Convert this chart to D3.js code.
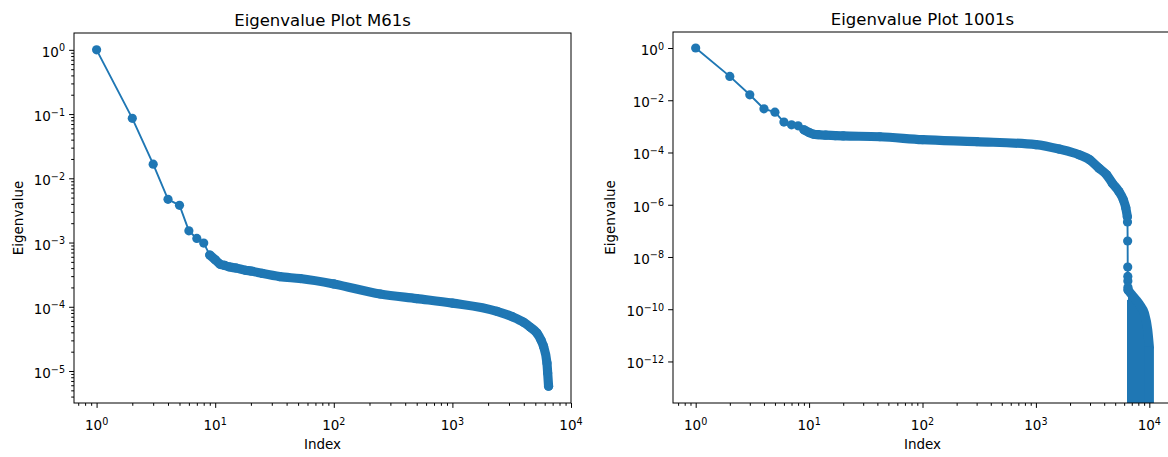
<!DOCTYPE html>
<html><head><meta charset="utf-8">
<script src="https://cdn.jsdelivr.net/npm/d3@7"></script>
<style>
body{margin:0;background:#fff}
text{font-family:"DejaVu Sans",sans-serif;fill:#000}
</style>
</head><body>
<svg id="chart" width="1168" height="457"></svg>
<script>
// ---------- data ----------
const m61Index = [1,2,3,4,5,6,7,8,9,10,11,12,13,15,18,20,25,35,52,100,246,500,1000,2375,3200,4000,4540,5160,5600,5870,6270,6360,6470];
const m61Value = [1.0,0.0857,0.0166,0.0047,0.0038,0.00152,0.00116,0.00098,0.00064,0.00054,0.00046,0.00044,0.00042,0.0004,0.00037,0.00036,0.00033,0.000295,0.000275,0.000227,0.000158,0.000134,0.000114,8.5e-5,7.0e-5,5.7e-5,4.8e-5,3.9e-5,3.0e-5,2.4e-5,1.33e-5,9.3e-6,5.8e-6];

const s1001Index = [1,2,3,4,5,6,7,8,9,10,11,12,14,17,20,42,100,300,1000,1600,2400,3000,3600,4200,4720,5400,5900,6200,6400,6420,6440,6450,6460,6470,6480,6490];
const s1001Value = [1.0,0.082,0.0162,0.0047,0.0035,0.00146,0.00115,0.00105,0.00074,0.00058,0.0005,0.00048,0.00046,0.00044,0.00043,0.0004,0.00031,0.00026,0.0002,0.000135,8.2e-5,5.2e-5,2.5e-5,1.4e-5,6.7e-6,3.2e-6,1.55e-6,7.6e-7,3.5e-7,2.2e-7,4.1e-8,4.1e-9,1.8e-9,1.2e-9,7e-10,5.5e-10];

// upper envelope of the noisy tail of the 1001s spectrum (values reach below the axis)
const s1001NoiseIndex = [6490,7000,7640,8400,9040,9680,10000];
const s1001NoiseUpper = [5.5e-10,3.6e-10,2.3e-10,1.3e-10,7.2e-11,1.6e-11,3.7e-12];

const xTickExps = [0,1,2,3,4];
const m61YTickExps = [0,-1,-2,-3,-4,-5];
const s1001YTickExps = [0,-2,-4,-6,-8,-10,-12];
const titles = ["Eigenvalue Plot M61s","Eigenvalue Plot 1001s"];
const xLabelText = "Index";
const yLabelText = "Eigenvalue";

// ---------- layout ----------
const color = "#1f77b4";
const R = 4.6;
const svg = d3.select("#chart");

const panels = [
  {title:titles[0], idx:m61Index, val:m61Value, yTicks:m61YTickExps, yMinor:true,
   x0:74, x1:571, y0:33, y1:403, xd:[Math.pow(10,-0.1905), 1e4], yd:[Math.pow(10,-5.498), Math.pow(10,0.262)],
   ylabX:23, bandFrom:9, bandTo:1e9},
  {title:titles[1], idx:s1001Index, val:s1001Value, yTicks:s1001YTickExps, yMinor:false,
   x0:673, x1:1172, y0:32, y1:403, xd:[Math.pow(10,-0.2), Math.pow(10,4.2)], yd:[Math.pow(10,-13.59), Math.pow(10,0.613)],
   ylabX:615, bandFrom:9, bandTo:6400, noise:true}
];

function sup(textSel, exp){
  textSel.append("tspan").text("10");
  textSel.append("tspan").attr("font-size","9.6px").attr("dy","-5.5")
    .text(exp < 0 ? "\u2212" + Math.abs(exp) : String(exp));
}

function minorValues(domain){
  const out = [];
  const lo = Math.floor(Math.log10(domain[0])), hi = Math.ceil(Math.log10(domain[1]));
  for (let k = lo; k <= hi; k++) for (let m = 2; m <= 9; m++){
    const v = m*Math.pow(10,k);
    if (v >= domain[0] && v <= domain[1]) out.push(v);
  }
  return out;
}

panels.forEach((p, pi) => {
  const x = d3.scaleLog().domain(p.xd).range([p.x0, p.x1]);
  const y = d3.scaleLog().domain(p.yd).range([p.y1, p.y0]);
  const g = svg.append("g");
  const clipId = "clip" + pi;
  g.append("clipPath").attr("id", clipId).append("rect")
    .attr("x", p.x0).attr("y", p.y0).attr("width", p.x1 - p.x0).attr("height", p.y1 - p.y0);
  const plot = g.append("g").attr("clip-path", `url(#${clipId})`);
  const pts = p.idx.map((d,i) => [d, p.val[i]]);

  if (p.noise){
    const nz = s1001NoiseIndex.map((d,i)=>[d, s1001NoiseUpper[i]]);
    plot.append("path").datum(nz)
      .attr("d", d3.area().curve(d3.curveMonotoneX).x(d=>x(d[0])).y0(p.y1 + 10).y1(d=>y(d[1])))
      .attr("fill", color);
    plot.append("path").datum(nz)
      .attr("d", d3.line().curve(d3.curveMonotoneX).x(d=>x(d[0])).y(d=>y(d[1])))
      .attr("fill","none").attr("stroke",color).attr("stroke-width",2*R)
      .attr("stroke-linecap","round").attr("stroke-linejoin","round");
    const last = nz[nz.length-1];
    plot.append("path").datum([last, [last[0], p.yd[0]]])
      .attr("d", d3.line().x(d=>x(d[0])).y(d=>y(d[1])))
      .attr("fill","none").attr("stroke",color).attr("stroke-width",2*R);
    plot.append("path").datum([nz[0], [nz[0][0], p.yd[0]]])
      .attr("d", d3.line().x(d=>x(d[0])).y(d=>y(d[1]) + 10))
      .attr("stroke",color).attr("stroke-width",2);
  }

  // thin connecting line
  plot.append("path").datum(pts)
    .attr("d", d3.line().x(d=>x(d[0])).y(d=>y(d[1])))
    .attr("fill","none").attr("stroke",color).attr("stroke-width",1.9);
  // dense overlapping markers -> band
  const band = pts.filter(d => d[0] >= p.bandFrom && d[0] <= p.bandTo);
  plot.append("path").datum(band)
    .attr("d", d3.line().curve(d3.curveMonotoneX).x(d=>x(d[0])).y(d=>y(d[1])))
    .attr("fill","none").attr("stroke",color).attr("stroke-width",2*R)
    .attr("stroke-linecap","round").attr("stroke-linejoin","round");
  plot.selectAll("circle").data(pts).enter().append("circle")
    .attr("cx", d=>x(d[0])).attr("cy", d=>y(d[1])).attr("r", R).attr("fill", color);

  // axes ticks
  const xMajor = xTickExps.map(e=>Math.pow(10,e)).filter(v=>v>=p.xd[0]&&v<=p.xd[1]);
  const ax = g.append("g").attr("transform",`translate(0,${p.y1})`)
    .call(d3.axisBottom(x).tickValues(xMajor).tickSize(4.9).tickFormat(""));
  const axm = g.append("g").attr("transform",`translate(0,${p.y1})`)
    .call(d3.axisBottom(x).tickValues(minorValues(p.xd)).tickSize(2.8).tickFormat(""));
  const yMajor = p.yTicks.map(e=>Math.pow(10,e));
  const ay = g.append("g").attr("transform",`translate(${p.x0},0)`)
    .call(d3.axisLeft(y).tickValues(yMajor).tickSize(4.9).tickFormat(""));
  const sels = [ax, axm, ay];
  if (p.yMinor){
    sels.push(g.append("g").attr("transform",`translate(${p.x0},0)`)
      .call(d3.axisLeft(y).tickValues(minorValues(p.yd)).tickSize(2.8).tickFormat("")));
  }
  sels.forEach(s => {
    s.select(".domain").remove();
    s.selectAll(".tick line").attr("stroke","#000").attr("stroke-width",1);
  });

  // tick labels
  xTickExps.forEach(e => {
    const v = Math.pow(10,e);
    if (v < p.xd[0] || v > p.xd[1]) return;
    const t = g.append("text").attr("x", x(v)).attr("y", p.y1 + 27)
      .attr("text-anchor","middle").attr("font-size","13.5px");
    sup(t, e);
  });
  p.yTicks.forEach(e => {
    const v = Math.pow(10,e);
    const t = g.append("text").attr("x", p.x0 - 9).attr("y", y(v) + 7)
      .attr("text-anchor","end").attr("font-size","13.5px");
    sup(t, e);
  });

  // spines
  g.append("rect").attr("x",p.x0).attr("y",p.y0).attr("width",p.x1-p.x0).attr("height",p.y1-p.y0)
    .attr("fill","none").attr("stroke","#000").attr("stroke-width",1);

  // title and labels
  g.append("text").attr("x",(p.x0+p.x1)/2).attr("y",p.y0-7).attr("text-anchor","middle")
    .attr("font-size","16.5px").text(p.title);
  g.append("text").attr("x",(p.x0+p.x1)/2).attr("y",449).attr("text-anchor","middle")
    .attr("font-size","13.5px").text(xLabelText);
  g.append("text").attr("transform",`translate(${p.ylabX},${(p.y0+p.y1)/2}) rotate(-90)`)
    .attr("text-anchor","middle").attr("font-size","13.5px").text(yLabelText);
});
</script>
</body></html>
